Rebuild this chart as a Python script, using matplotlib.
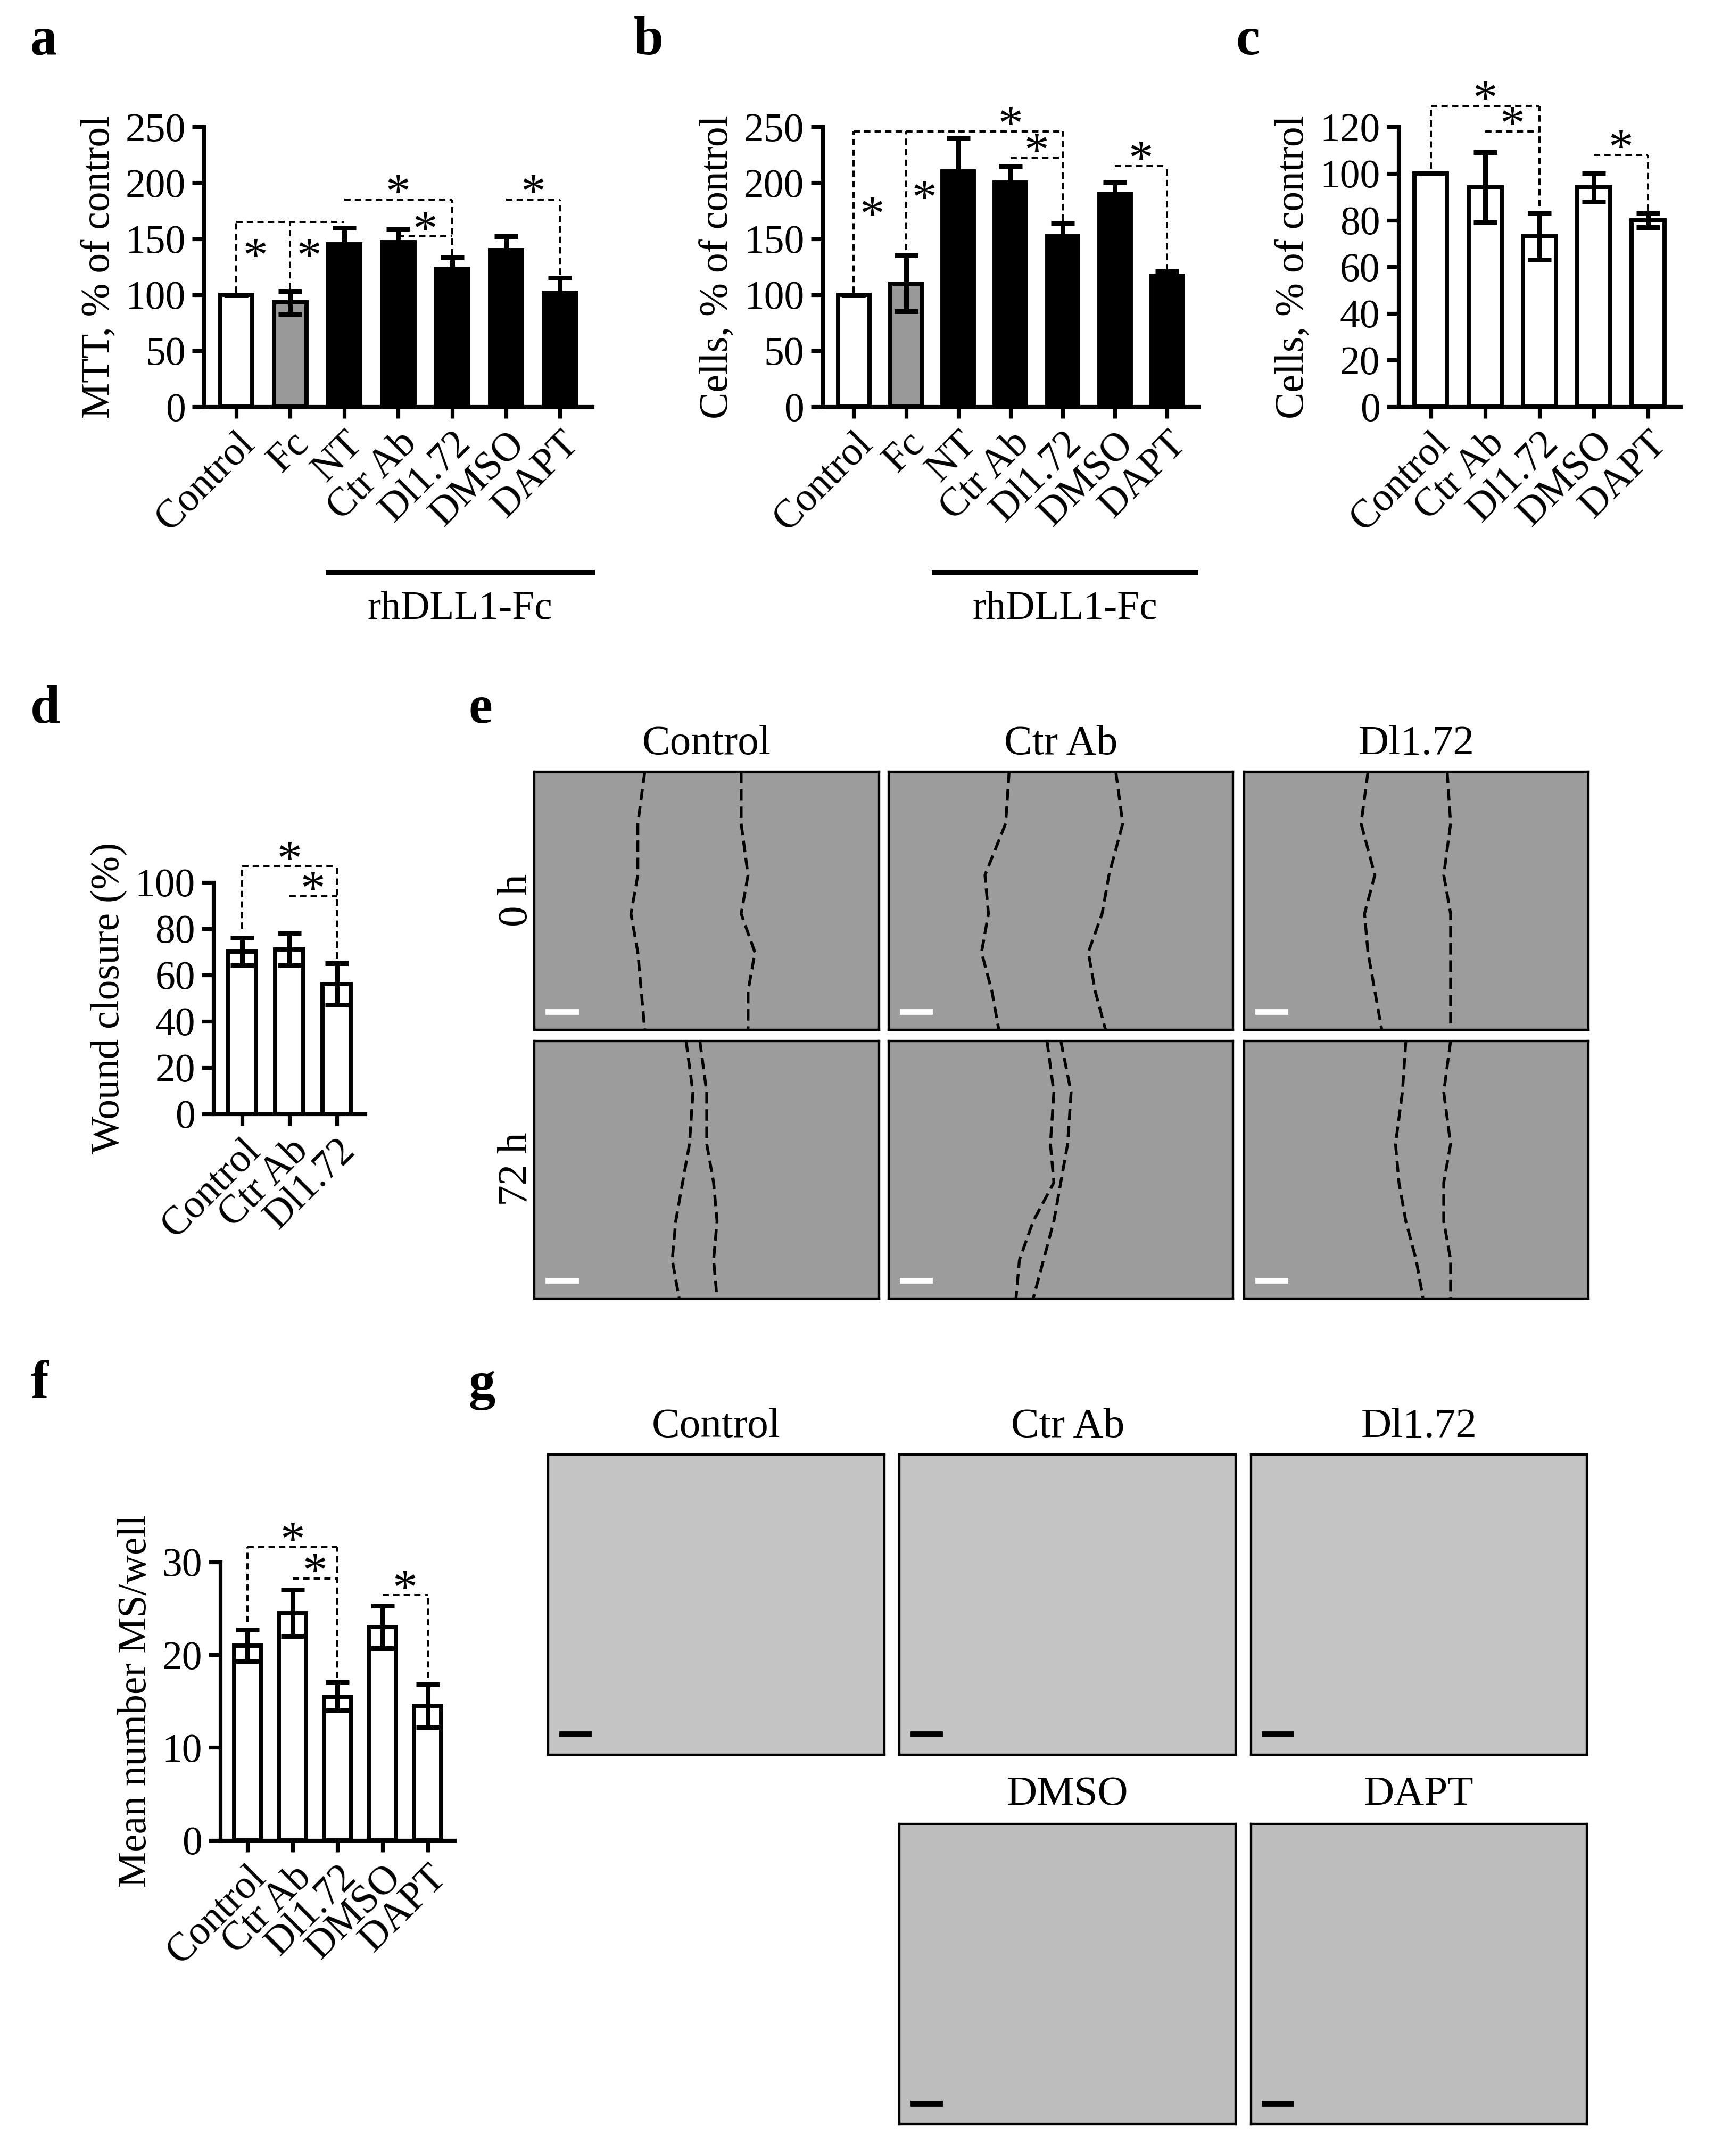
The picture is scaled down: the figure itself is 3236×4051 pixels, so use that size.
import numpy as np
import matplotlib
matplotlib.use('Agg')
import matplotlib.pyplot as plt

plt.rcParams['font.family'] = ['Liberation Serif', 'DejaVu Serif']
plt.rcParams['font.size'] = 19

# data
labels_a = ['Control', 'Fc', 'NT', 'Ctr Ab', 'Dl1.72', 'DMSO', 'DAPT']
mtt_vals = [100, 93, 145, 147, 123, 140, 102]
mtt_err = [0, 10, 15, 12, 10, 12, 13]
cells_b_vals = [100, 110, 210, 200, 152, 190, 117]
cells_b_err = [0, 25, 30, 15, 12, 10, 4]
labels_c = ['Control', 'Ctr Ab', 'Dl1.72', 'DMSO', 'DAPT']
cells_c_vals = [100, 94, 73, 94, 80]
cells_c_err = [0, 15, 10, 6, 3]
labels_d = ['Control', 'Ctr Ab', 'Dl1.72']
wound_vals = [70, 71, 56]
wound_err = [6, 7, 9]
ms_vals = [21, 24.5, 15.5, 23, 14.5]
ms_err = [1.7, 2.5, 1.5, 2.3, 2.3]
colors_ab = ['white', '#999999', 'black', 'black', 'black', 'black', 'black']

W, H = 1250, 1564
fig = plt.figure(figsize=(3236 / 259, 4051 / 259), dpi=259)


def ax_at(x0, y0, x1, y1):
    return fig.add_axes([x0 / W, 1 - y1 / H, (x1 - x0) / W, (y1 - y0) / H])


def bars(ax, vals, err, colors, labels, ylim, step, ylabel):
    x = np.arange(len(vals))
    ax.bar(x, vals, width=0.6, color=colors, edgecolor='black', linewidth=2.2)
    ax.errorbar(x, vals, yerr=err, fmt='none', ecolor='black', elinewidth=2.5,
                capsize=6, capthick=2.5)
    ax.set_ylim(0, ylim)
    ax.set_yticks(np.arange(0, ylim + 1, step))
    ax.set_xlim(-0.6, len(vals) - 0.4)
    ax.set_xticks(x)
    ax.set_xticklabels(labels, rotation=45, ha='right', rotation_mode='anchor', fontsize=21)
    ax.set_ylabel(ylabel, fontsize=21)
    ax.tick_params(labelsize=21, width=2, length=6)
    for s in ['top', 'right']:
        ax.spines[s].set_visible(False)
    for s in ['left', 'bottom']:
        ax.spines[s].set_linewidth(2)


def star(ax, x, y):
    ax.annotate('*', (x, y), xytext=(0, 2), textcoords='offset points',
                ha='center', va='center', fontsize=26, annotation_clip=False)


def bracket(ax, x1, x2, y, y1low, y2low, with_star=True):
    kw = dict(color='black', lw=1.1, ls=(0, (3, 2)), clip_on=False)
    ax.plot([x1, x2], [y, y], **kw)
    if y1low is not None:
        ax.plot([x1, x1], [y1low, y], **kw)
    if y2low is not None:
        ax.plot([x2, x2], [y2low, y], **kw)
    if with_star:
        star(ax, (x1 + x2) / 2, y)


# a
ax = ax_at(148, 92, 430, 295)
bars(ax, mtt_vals, mtt_err, colors_ab, labels_a, 250, 50, 'MTT, % of control')
bracket(ax, 0, 2, 165, 102, None, with_star=False)
ax.plot([1, 1], [105, 165], color='black', lw=1.1, ls=(0, (3, 2)))
star(ax, 0.35, 128)
star(ax, 1.35, 128)
bracket(ax, 2, 4, 185, None, 135)
bracket(ax, 3, 4, 152, None, 135)
bracket(ax, 5, 6, 185, None, 118)

# b
ax = ax_at(597, 92, 870, 295)
bars(ax, cells_b_vals, cells_b_err, colors_ab, labels_a, 250, 50, 'Cells, % of control')
bracket(ax, 0, 2, 246, 102, None, with_star=False)
ax.plot([1, 1], [140, 246], color='black', lw=1.1, ls=(0, (3, 2)), clip_on=False)
star(ax, 0.35, 165)
star(ax, 1.35, 180)
bracket(ax, 2, 4, 246, None, 166)
bracket(ax, 3, 4, 222, None, 166)
bracket(ax, 5, 6, 215, None, 122)

# c
ax = ax_at(1015, 92, 1220, 295)
bars(ax, cells_c_vals, cells_c_err, 'white', labels_c, 120, 20, 'Cells, % of control')
bracket(ax, 0, 2, 129, 102, 86)
bracket(ax, 1, 2, 118, None, 86)
bracket(ax, 3, 4, 108, None, 84)

# d
ax = ax_at(155, 640, 265, 808)
bars(ax, wound_vals, wound_err, 'white', labels_d, 100, 20, 'Wound closure (%)')
bracket(ax, 0, 2, 107, 80, 67)
bracket(ax, 1, 2, 94, None, 67)

# f
ax = ax_at(160, 1133, 330, 1335)
bars(ax, ms_vals, ms_err, 'white', labels_c, 30, 10, 'Mean number MS/well')
bracket(ax, 0, 2, 31.6, 23.5, 17.5)
bracket(ax, 1, 2, 28.2, None, 17.5)
bracket(ax, 3, 4, 26.4, None, 17.5)

# rhDLL1-Fc bars
for x0, x1 in [(238, 430), (678, 868)]:
    fig.add_artist(plt.Line2D([x0 / W, x1 / W], [1 - 415 / H] * 2, color='black', lw=2.5))
    fig.text((x0 + x1) / 2 / W, 1 - 442 / H, 'rhDLL1-Fc', ha='center', va='center', fontsize=21)

# panel letters
for lab, x, y in [('a', 22, 30), ('b', 460, 30), ('c', 897, 30), ('d', 22, 515),
                  ('e', 340, 515), ('f', 22, 1005), ('g', 340, 1005)]:
    fig.text(x / W, 1 - y / H, lab, fontsize=28, fontweight='bold', va='center')


def image_panel(x0, y0, x1, y1, shade, bar_color):
    a = ax_at(x0, y0, x1, y1)
    a.set_facecolor(shade)
    a.set_xticks([]); a.set_yticks([])
    a.set_xlim(0, 1); a.set_ylim(0, 1)
    for s in a.spines.values():
        s.set_linewidth(1.2)
    a.plot([0.04, 0.12], [0.07, 0.07], color=bar_color, lw=3)
    return a


# e: wound edges (fraction of panel width, top to bottom)
edge_y = [1.0, 0.8, 0.6, 0.45, 0.3, 0.15, 0.0]
edges_0h = [([0.32, 0.3, 0.3, 0.28, 0.3, 0.31, 0.32], [0.6, 0.6, 0.62, 0.6, 0.64, 0.62, 0.62]),
            ([0.35, 0.34, 0.28, 0.29, 0.27, 0.3, 0.32], [0.66, 0.68, 0.64, 0.62, 0.58, 0.6, 0.63]),
            ([0.36, 0.34, 0.38, 0.35, 0.36, 0.38, 0.4], [0.59, 0.6, 0.58, 0.6, 0.6, 0.6, 0.6])]
edges_72h = [([0.44, 0.46, 0.45, 0.43, 0.41, 0.4, 0.42], [0.48, 0.5, 0.5, 0.52, 0.53, 0.52, 0.53]),
             ([0.46, 0.48, 0.47, 0.48, 0.42, 0.38, 0.37], [0.5, 0.53, 0.52, 0.5, 0.48, 0.45, 0.42]),
             ([0.47, 0.46, 0.44, 0.45, 0.47, 0.5, 0.52], [0.6, 0.58, 0.6, 0.58, 0.58, 0.6, 0.6])]
cols_e = [(388, 638), (645, 895), (903, 1153)]
titles = ['Control', 'Ctr Ab', 'Dl1.72']
for i, (x0, x1) in enumerate(cols_e):
    fig.text((x0 + x1) / 2 / W, 1 - 540 / H, titles[i], ha='center', va='center', fontsize=22)
    for (y0, y1), edges in [((560, 747), edges_0h), ((755, 942), edges_72h)]:
        a = image_panel(x0, y0, x1, y1, '#9c9c9c', 'white')
        for e in edges[i]:
            a.plot(e, edge_y, color='black', lw=1.5, ls=(0, (4, 2)))
fig.text(375 / W, 1 - 653 / H, '0 h', rotation=90, ha='center', va='center', fontsize=22)
fig.text(375 / W, 1 - 848 / H, '72 h', rotation=90, ha='center', va='center', fontsize=22)

# g
cols_g = [(398, 642), (653, 897), (908, 1152)]
for i, (x0, x1) in enumerate(cols_g):
    fig.text((x0 + x1) / 2 / W, 1 - 1035 / H, titles[i], ha='center', va='center', fontsize=22)
    image_panel(x0, 1055, x1, 1273, '#c4c4c4', 'black')
for i, t in enumerate(['DMSO', 'DAPT']):
    x0, x1 = cols_g[i + 1]
    fig.text((x0 + x1) / 2 / W, 1 - 1302 / H, t, ha='center', va='center', fontsize=22)
    image_panel(x0, 1323, x1, 1541, '#bdbdbd', 'black')

fig.savefig('out.png', dpi=259, facecolor='white')
